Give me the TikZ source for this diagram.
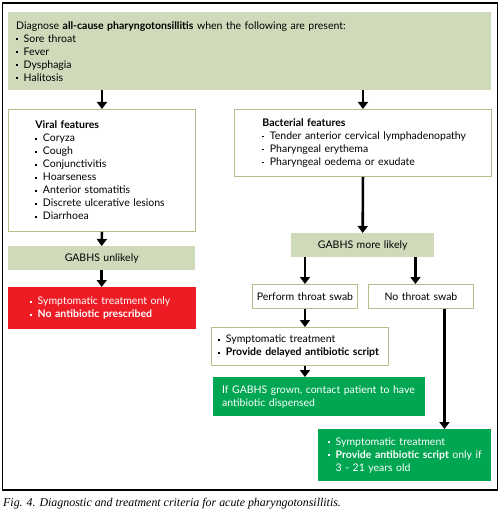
\documentclass[tikz,border=0pt]{standalone}
\usepackage{fontspec}
\setmainfont{Lato}
\newfontfamily\capfont{Liberation Serif}
\usetikzlibrary{arrows.meta}
\definecolor{lgreen}{HTML}{CFDABA}
\definecolor{oborder}{HTML}{B3BF8A}
\definecolor{rbox}{HTML}{ED1C24}
\definecolor{gbox}{HTML}{00A651}
\newcommand\bl{\makebox[7.5pt][l]{\raisebox{2pt}{\rule{1.7pt}{1.7pt}}}}
\newcommand\li[1]{\mbox{\bl #1}}
\begin{document}
\begin{tikzpicture}[x=1pt,y=-1pt,
  font=\fontsize{10.5}{13}\selectfont,
  every node/.style={inner ysep=0pt, anchor=north west},
  wbox/.style={draw=oborder, line width=0.9pt, fill=white},
  lgbox/.style={fill=lgreen},
  redbox/.style={fill=rbox, text=white},
  grbox/.style={fill=gbox, text=white},
  arr/.style={line width=2.6pt, -{Triangle[width=10pt,length=7pt]}}]
\useasboundingbox (0,0) rectangle (503,516);
\draw[line width=1.1pt] (2.5,3) rectangle (497.5,490);

\node[lgbox, minimum width=483, minimum height=78, text width=467, inner xsep=8, align=left] (top) at (8,12)
 {\mbox{Diagnose \textbf{all-cause pharyngotonsillitis} when the following are present:}\\
  \li{Sore throat}\\ \li{Fever}\\ \li{Dysphagia}\\ \li{Halitosis}};

\node[wbox, minimum width=187, minimum height=122, text width=133, inner xsep=27, align=left] (viral) at (8,109)
 {\mbox{\textbf{Viral features}}\\ \li{Coryza}\\ \li{Cough}\\ \li{Conjunctivitis}\\ \li{Hoarseness}\\ \li{Anterior stomatitis}\\ \li{Discrete ulcerative lesions}\\ \li{Diarrhoea}};

\node[wbox, minimum width=257, minimum height=67, text width=201, inner xsep=28, align=left] (bact) at (234,109)
 {\mbox{\textbf{Bacterial features}}\\ \li{Tender anterior cervical lymphadenopathy}\\ \li{Pharyngeal erythema}\\ \li{Pharyngeal oedema or exudate}};

\node[lgbox, minimum width=187, minimum height=24, text width=187, inner xsep=0, align=center] (unlikely) at (8,246)
 {GABHS unlikely};

\node[lgbox, minimum width=143, minimum height=24, text width=143, inner xsep=0, align=center] (more) at (291,233)
 {GABHS more likely};

\node[redbox, minimum width=188, minimum height=42, text width=144, inner xsep=22, align=left] (red) at (8,287)
 {\li{Symptomatic treatment only}\\ \li{\textbf{No antibiotic prescribed}}};

\node[wbox, minimum width=105, minimum height=24, text width=105, inner xsep=0, align=center] (perform) at (252,284)
 {\mbox{Perform throat swab}};

\node[wbox, minimum width=105, minimum height=24, text width=105, inner xsep=0, align=center] (noswab) at (368,284)
 {\mbox{No throat swab}};

\node[wbox, minimum width=177, minimum height=38, text width=163, inner xsep=7, align=left] (symp) at (211,327)
 {\li{Symptomatic treatment}\\ \li{\textbf{Provide delayed antibiotic script}}};

\node[grbox, minimum width=212, minimum height=39, text width=194, inner xsep=9, align=left] (g1) at (213,377)
 {\mbox{If GABHS grown, contact patient to have}\\ \mbox{antibiotic dispensed}};

\node[grbox, minimum width=173, minimum height=52, text width=153, inner xsep=10, align=left] (g2) at (318,429)
 {\li{Symptomatic treatment}\\ \li{\textbf{Provide antibiotic script} only if}\\ \mbox{\hspace*{7.5pt}3 - 21 years old}};

\node[anchor=base west, inner sep=0pt, font=\capfont\itshape\fontsize{11.9}{13}\selectfont] (cap) at (3,506)
 {Fig. 4. Diagnostic and treatment criteria for acute pharyngotonsillitis.};

\draw[arr] (top.south -| viral.north) -- (viral.north);
\draw[arr] (top.south -| bact.north) -- (bact.north);
\draw[arr] (viral.south) -- (unlikely.north);
\draw[arr] (unlikely.south) -- (unlikely.south |- red.north);
\draw[arr] (bact.south) -- (more.north);
\draw[arr] (more.south -| perform.north) -- (perform.north);
\draw[arr] ([xshift=-5.5]noswab.north |- more.south) -- ([xshift=-5.5]noswab.north);
\draw[arr] (perform.south) -- (perform.south |- symp.north);
\draw[arr] (perform.south |- symp.south) -- (perform.south |- g1.north);
\draw[arr] ([xshift=23.5]noswab.south) -- ([xshift=23.5]noswab.south |- g2.north);
\end{tikzpicture}
\end{document}
